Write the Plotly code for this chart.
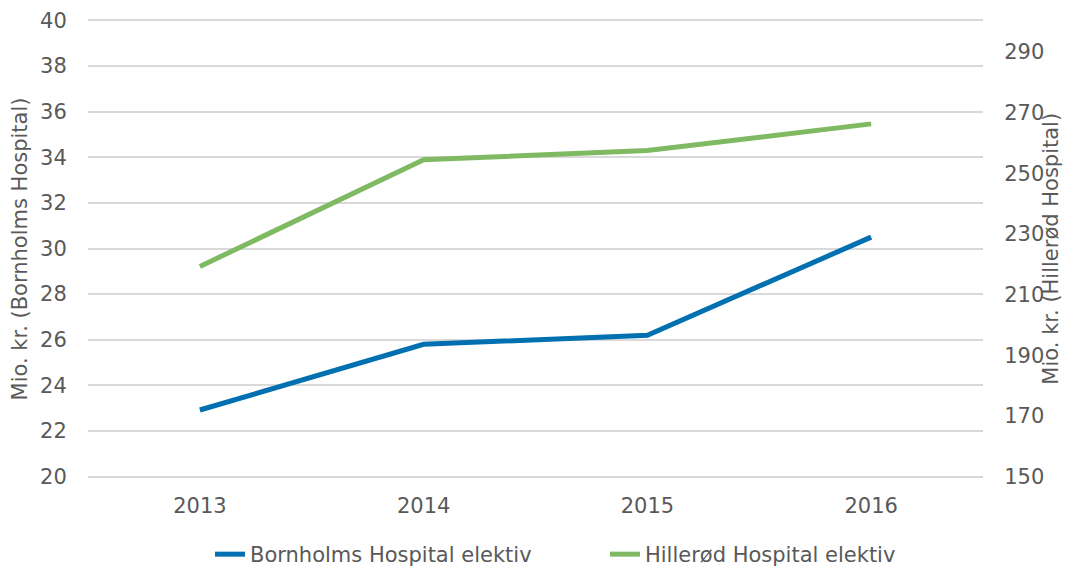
import plotly.graph_objects as go

years = ["2013", "2014", "2015", "2016"]
bornholm = [22.92, 25.8, 26.2, 30.5]
hillerod = [219.3, 254.5, 257.5, 266.3]
left_ticks = [20, 22, 24, 26, 28, 30, 32, 34, 36, 38, 40]
right_ticks = [150, 170, 190, 210, 230, 250, 270, 290]

FONT = "Verdana, DejaVu Sans, sans-serif"
GREY = "#595959"
FS = 21

fig = go.Figure()
fig.add_trace(go.Scatter(
    x=[0, 1, 2, 3], y=bornholm, mode="lines", name="Bornholms Hospital elektiv",
    line=dict(color="#0070B0", width=5), yaxis="y"))
fig.add_trace(go.Scatter(
    x=[0, 1, 2, 3], y=hillerod, mode="lines", name="Hillerød Hospital elektiv",
    line=dict(color="#7FBA62", width=5), yaxis="y2"))

fig.update_layout(
    width=1066, height=569,
    margin=dict(l=88, r=83, t=19, b=91, autoexpand=False),
    paper_bgcolor="white", plot_bgcolor="white",
    font=dict(family=FONT, size=FS, color=GREY),
    showlegend=True,
    legend=dict(orientation="h", x=0.1363, xanchor="left", y=-0.122, yanchor="top",
                font=dict(size=FS, color=GREY), entrywidth=350, entrywidthmode="pixels",
                tracegroupgap=0),
    xaxis=dict(range=[-0.5, 3.5], tickmode="array", tickvals=[0, 1, 2, 3], ticktext=years,
               showgrid=False, zeroline=False, showline=False, ticks="outside", ticklen=9,
               tickcolor="rgba(0,0,0,0)", automargin=False,
               tickfont=dict(size=FS, color=GREY)),
    yaxis=dict(range=[19.94, 40.06], tickmode="array", tickvals=left_ticks,
               showgrid=True, gridcolor="#D9D9D9", gridwidth=1.5, zeroline=False,
               showline=False, ticks="outside", ticklen=16, tickcolor="rgba(0,0,0,0)",
               automargin=False, tickfont=dict(size=FS, color=GREY)),
    yaxis2=dict(range=[149.545, 300.88], tickmode="array", tickvals=right_ticks,
                overlaying="y", side="right", showgrid=False, zeroline=False,
                showline=False, ticks="outside", ticklen=16, tickcolor="rgba(0,0,0,0)",
                automargin=False, tickfont=dict(size=FS, color=GREY)),
    annotations=[
        dict(text="Mio. kr. (Bornholms Hospital)", xref="paper", yref="paper",
             x=-0.076, y=0.5, xanchor="center", yanchor="middle", textangle=-90,
             showarrow=False, font=dict(size=FS, color=GREY)),
        dict(text="Mio. kr. (Hillerød Hospital)", xref="paper", yref="paper",
             x=1.075, y=0.5, xanchor="center", yanchor="middle", textangle=-90,
             showarrow=False, font=dict(size=FS, color=GREY)),
    ],
)

fig.write_html("out.html", config={"displayModeBar": False},
               post_script="document.body.style.margin='0';document.body.style.overflow='hidden';")
